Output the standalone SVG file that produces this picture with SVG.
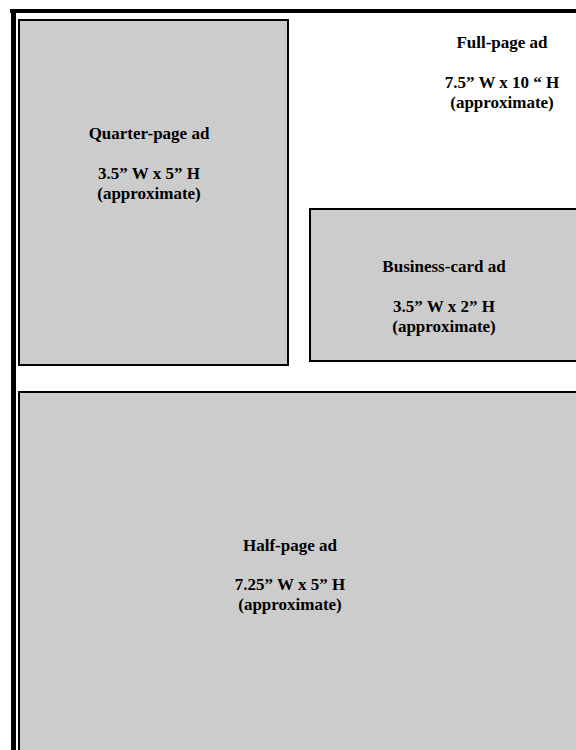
<svg xmlns="http://www.w3.org/2000/svg" width="576" height="750" viewBox="0 0 576 750">
<style>
.ad{fill:#cccccc;stroke:#000;stroke-width:2}
.t{font-family:"Liberation Serif","Times New Roman",serif;font-weight:bold;font-size:17px;fill:#000;text-anchor:middle}
</style>
<rect x="0" y="0" width="576" height="750" fill="#fff"/>
<g id="full-page">
<rect x="10" y="9" width="566" height="4" fill="#000"/>
<rect x="11" y="9" width="5" height="741" fill="#000"/>
<text class="t" x="502" y="48">Full-page ad</text>
<text class="t" x="502" y="88">7.5” W x 10 “ H</text>
<text class="t" x="502" y="108">(approximate)</text>
</g>
<g id="quarter-page">
<rect class="ad" x="19" y="20" width="269" height="345"/>
<text class="t" x="149" y="139">Quarter-page ad</text>
<text class="t" x="149" y="179">3.5” W x 5” H</text>
<text class="t" x="149" y="199">(approximate)</text>
</g>
<g id="business-card">
<rect class="ad" x="310" y="209" width="280" height="152"/>
<text class="t" x="444" y="272">Business-card ad</text>
<text class="t" x="444" y="312">3.5” W x 2” H</text>
<text class="t" x="444" y="332">(approximate)</text>
</g>
<g id="half-page">
<rect class="ad" x="19" y="392" width="570" height="370"/>
<text class="t" x="290" y="551">Half-page ad</text>
<text class="t" x="290" y="590">7.25” W x 5” H</text>
<text class="t" x="290" y="610">(approximate)</text>
</g>
<g id="connectors"/>
</svg>
